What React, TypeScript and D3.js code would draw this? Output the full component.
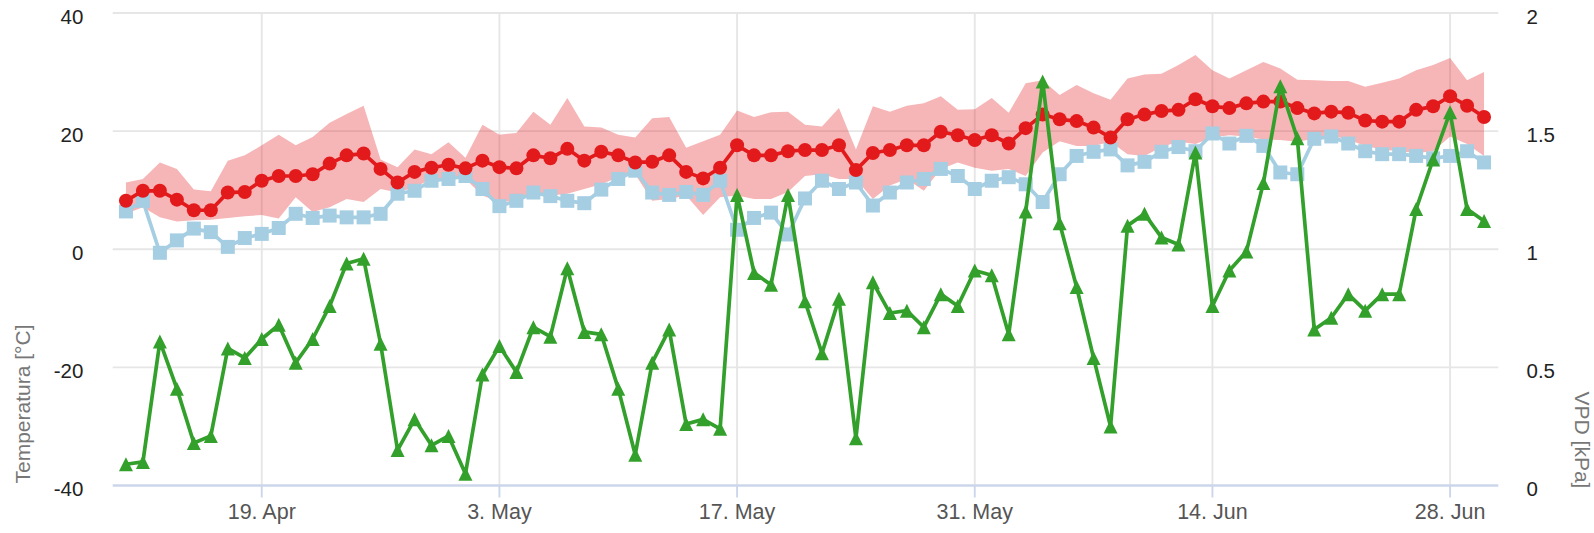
import * as d3 from 'd3'

// daily values, 11 Apr .. 30 Jun
const START = Date.UTC(2019, 3, 11)
const DAY = 864e5

const TEMP_MEAN = [
  8.2, 9.9, 9.9, 8.4, 6.6, 6.6, 9.6, 9.7, 11.6, 12.4, 12.4, 12.7, 14.5, 15.9, 16.2, 13.6,
  11.3, 13.1, 13.8, 14.3, 13.7, 15.0, 13.9, 13.7, 15.9, 15.4, 17.0, 15.0, 16.5, 15.9, 14.7, 14.8,
  15.9, 13.1, 12.0, 13.8, 17.6, 15.9, 15.9, 16.6, 16.8, 16.8, 17.6, 13.4, 16.3, 16.8, 17.6, 17.6,
  19.9, 19.3, 18.5, 19.3, 17.9, 20.5, 22.8, 22.0, 21.7, 20.6, 18.9, 22.0, 22.8, 23.4, 23.6, 25.4,
  24.2, 23.9, 24.7, 25.0, 25.0, 23.9, 23.0, 23.3, 23.1, 21.8, 21.6, 21.6, 23.6, 24.2, 25.9, 24.3,
  22.4,
]

const DEW_POINT = [
  6.4, 8.2, -0.6, 1.5, 3.5, 2.9, 0.4, 1.9, 2.6, 3.6, 6.0, 5.3, 5.7, 5.4, 5.4, 6.0,
  9.4, 9.9, 11.6, 11.9, 12.4, 10.2, 7.3, 8.2, 9.6, 9.0, 8.2, 7.8, 10.1, 11.9, 13.3, 9.6,
  9.2, 9.7, 9.2, 11.6, 3.3, 5.3, 6.2, 2.5, 8.6, 11.6, 10.2, 11.3, 7.4, 9.6, 11.3, 11.9,
  13.6, 12.4, 10.2, 11.6, 12.2, 11.0, 8.0, 12.7, 15.8, 16.5, 16.9, 14.2, 14.8, 16.5, 17.3, 16.6,
  19.6, 17.9, 19.2, 17.5, 13.0, 12.7, 18.7, 19.1, 17.9, 16.6, 16.1, 16.1, 15.8, 15.4, 15.8, 16.6,
  14.7,
]

const TEMP_MAX = [
  11.3, 11.9, 14.7, 13.6, 10.1, 9.8, 15.0, 15.9, 17.6, 19.4, 17.6, 19.0, 21.4, 22.9, 24.3, 15.2,
  13.9, 16.9, 16.1, 18.1, 15.5, 21.1, 19.4, 19.7, 23.3, 21.1, 25.6, 20.8, 20.6, 19.4, 18.9, 22.2,
  22.4, 17.2, 18.3, 19.4, 23.5, 22.4, 23.2, 23.3, 21.1, 20.8, 23.9, 16.9, 24.2, 23.3, 24.3, 24.7,
  25.9, 23.6, 23.7, 25.6, 23.1, 28.1, 28.6, 26.1, 27.8, 26.4, 25.3, 28.9, 29.6, 29.7, 31.2, 32.9,
  30.3, 28.9, 30.3, 31.7, 30.6, 28.7, 28.6, 28.5, 28.5, 27.5, 28.2, 28.9, 30.3, 31.2, 32.4, 28.6,
  30.0,
]

const TEMP_MIN = [
  6.0, 7.1, 5.4, 4.7, 4.9, 5.0, 5.3, 5.6, 5.8, 5.2, 8.8, 6.3, 7.1, 8.5, 8.0, 10.2,
  9.6, 10.5, 11.9, 11.9, 11.9, 9.1, 8.0, 8.2, 9.1, 9.1, 9.4, 10.2, 11.0, 12.2, 12.7, 8.2,
  8.5, 9.1, 5.8, 8.8, 9.1, 8.5, 8.5, 9.7, 12.4, 12.7, 11.9, 11.9, 8.5, 10.8, 11.9, 9.9,
  13.6, 14.7, 13.8, 13.3, 13.6, 12.4, 16.4, 18.3, 17.5, 17.5, 18.2, 16.1, 15.8, 17.3, 18.2, 17.8,
  18.9, 19.3, 19.1, 18.6, 18.5, 18.2, 18.7, 19.2, 18.6, 17.5, 16.9, 16.6, 16.3, 16.6, 19.1, 17.8,
  15.8,
]

const VPD = [
  0.09, 0.10, 0.61, 0.41, 0.18, 0.21, 0.58, 0.54, 0.62, 0.68, 0.52, 0.62, 0.76, 0.94, 0.96, 0.60,
  0.15, 0.28, 0.17, 0.21, 0.05, 0.47, 0.59, 0.48, 0.67, 0.63, 0.92, 0.65, 0.64, 0.41, 0.13, 0.52,
  0.66, 0.26, 0.28, 0.24, 1.23, 0.90, 0.85, 1.23, 0.78, 0.56, 0.79, 0.20, 0.86, 0.73, 0.74, 0.67,
  0.81, 0.76, 0.91, 0.89, 0.64, 1.16, 1.71, 1.11, 0.84, 0.54, 0.25, 1.10, 1.15, 1.05, 1.02, 1.41,
  0.76, 0.91, 0.99, 1.28, 1.69, 1.47, 0.66, 0.71, 0.81, 0.74, 0.81, 0.81, 1.17, 1.38, 1.58, 1.17,
  1.12,
]

const DATE_TICKS = ['2019-04-19', '2019-05-03', '2019-05-17', '2019-05-31', '2019-06-14', '2019-06-28']
const TEMP_TICKS = [-40, -20, 0, 20, 40]
const VPD_TICKS = [0, 0.5, 1, 1.5, 2]

const W = 1594
const H = 533
const PLOT = { left: 112.7, right: 1498.3, top: 13, bottom: 485.5 }
const FONT = '"Liberation Sans", Arial, Helvetica, sans-serif'
const R = 7 // marker radius
const LW = 3.7

const RED = '#e31a1c'
const BLUE = '#a6cee3'
const GREEN = '#33a02c'

export default function App() {
  const dates = TEMP_MEAN.map((_, i) => new Date(START + i * DAY))

  const x = d3.scaleUtc()
    .domain([new Date(START - 0.78 * DAY), new Date(START + 80.84 * DAY)])
    .range([PLOT.left, PLOT.right])
  const yT = d3.scaleLinear().domain([-40, 40]).range([PLOT.bottom, PLOT.top])
  const yV = d3.scaleLinear().domain([0, 2]).range([PLOT.bottom, PLOT.top])
  const fmt = d3.utcFormat('%-d. %b')

  const area = d3.area<number>()
    .x((_, i) => x(dates[i]))
    .y0((_, i) => yT(TEMP_MIN[i]))
    .y1(d => yT(d))
  const lineT = (vals: number[]) => d3.line<number>().x((_, i) => x(dates[i])).y(d => yT(d))(vals) || ''
  const lineV = d3.line<number>().x((_, i) => x(dates[i])).y(d => yV(d))

  const tickDates = DATE_TICKS.map(s => new Date(s + 'T00:00:00Z'))

  return (
    <svg width={W} height={H} style={{ position: 'absolute', left: 0, top: 0, display: 'block', background: '#fff' }}
      fontFamily={FONT}>
      {/* grid */}
      {tickDates.map((d, i) => (
        <line key={'vg' + i} x1={x(d)} x2={x(d)} y1={PLOT.top} y2={PLOT.bottom} stroke="#e6e6e6" strokeWidth={1.9} />
      ))}
      {TEMP_TICKS.filter(t => t > -40).map(t => (
        <line key={'hg' + t} x1={PLOT.left} x2={PLOT.right} y1={yT(t)} y2={yT(t)} stroke="#e6e6e6" strokeWidth={1.9} />
      ))}
      <line x1={PLOT.left} x2={PLOT.right} y1={PLOT.bottom} y2={PLOT.bottom} stroke="#ccd6eb" strokeWidth={2.4} />
      {tickDates.map((d, i) => (
        <line key={'tk' + i} x1={x(d)} x2={x(d)} y1={PLOT.bottom} y2={PLOT.bottom + 12} stroke="#ccd6eb" strokeWidth={1.9} />
      ))}

      {/* range */}
      <path d={area(TEMP_MAX) || ''} fill={RED} fillOpacity={0.32} stroke="none" />

      {/* dew point */}
      <path d={lineT(DEW_POINT)} fill="none" stroke={BLUE} strokeWidth={LW} strokeLinejoin="round" />
      {DEW_POINT.map((v, i) => (
        <rect key={'b' + i} x={x(dates[i]) - R} y={yT(v) - R} width={2 * R} height={2 * R} fill={BLUE} />
      ))}

      {/* mean temperature */}
      <path d={lineT(TEMP_MEAN)} fill="none" stroke={RED} strokeWidth={LW} strokeLinejoin="round" />
      {TEMP_MEAN.map((v, i) => (
        <circle key={'r' + i} cx={x(dates[i])} cy={yT(v)} r={R} fill={RED} />
      ))}

      {/* VPD */}
      <path d={lineV(VPD) || ''} fill="none" stroke={GREEN} strokeWidth={LW} strokeLinejoin="round" />
      {VPD.map((v, i) => {
        const cx = x(dates[i]), cy = yV(v)
        return <path key={'g' + i} d={`M${cx},${cy - R}L${cx + R},${cy + R}L${cx - R},${cy + R}Z`} fill={GREEN} />
      })}

      {/* axes labels */}
      {TEMP_TICKS.map(t => (
        <text key={'lt' + t} x={83.3} y={yT(t) + 10.5} textAnchor="end" fontSize={20.5} fill="#222">{t}</text>
      ))}
      {VPD_TICKS.map(t => (
        <text key={'rt' + t} x={1526.5} y={yV(t) + 10.5} textAnchor="start" fontSize={20.5} fill="#222">{t}</text>
      ))}
      {tickDates.map((d, i) => (
        <text key={'xl' + i} x={x(d)} y={518.5} textAnchor="middle" fontSize={21.5} fill="#555">{fmt(d)}</text>
      ))}
      <text transform="translate(30,404) rotate(-90)" textAnchor="middle" fontSize={21} fill="#777">Temperatura [°C]</text>
      <text transform="translate(1575,440) rotate(90)" textAnchor="middle" fontSize={21} fill="#777">VPD [kPa]</text>
    </svg>
  )
}
